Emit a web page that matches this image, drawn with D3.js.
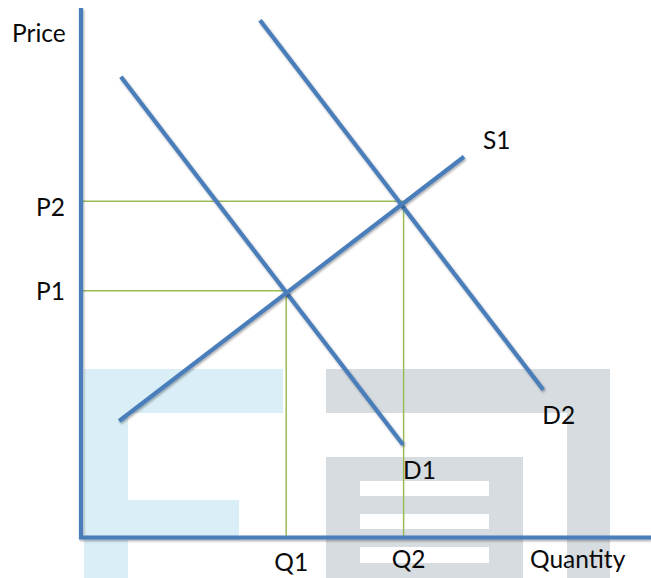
<!DOCTYPE html>
<html>
<head>
<meta charset="utf-8">
<script src="https://cdn.jsdelivr.net/npm/d3@7/dist/d3.min.js"></script>
<style>
  html, body { margin: 0; padding: 0; background: #fff; }
  svg { display: block; }
  text { font-family: Lato, "Open Sans", sans-serif; font-size: 24.5px; fill: #0a0a0a; }
</style>
</head>
<body>
<svg id="chart" width="651" height="578"></svg>
<script>
// ---- data (abstract price / quantity units) ----
const curveNames = ["D1", "D2", "S1"];
const D1 = [[0.70, 8.70], [5.65, 1.75]];
const D2 = [[3.14, 9.77], [8.11, 2.79]];
const S1 = [[0.67, 2.20], [6.72, 7.19]];
const equilibria = [[3.60, 4.66], [5.66, 6.35]];
const priceLabels = ["P1", "P2"];
const quantityLabels = ["Q1", "Q2"];
const axisTitles = ["Price", "Quantity"];

// ---- layout ----
const W = 651, H = 578;
const x = d3.scaleLinear().domain([0, 10]).range([81, 651]);
const y = d3.scaleLinear().domain([0, 10]).range([537.5, 8]);

const svg = d3.select("#chart");
const defs = svg.append("defs");
const f = defs.append("filter").attr("id", "shadow")
  .attr("x", "-10%").attr("y", "-10%").attr("width", "120%").attr("height", "120%");
f.append("feDropShadow").attr("dx", 1).attr("dy", 1.5).attr("stdDeviation", 1)
  .attr("flood-color", "#000").attr("flood-opacity", 0.35);

// ---- background watermark (decoration) ----
const wm = svg.append("g");
const blue = "#d9eef6", grey = "#d7dce0";
[[84, 369, 199, 44], [84, 369, 44, 209], [84, 500, 155, 40]].forEach(r =>
  wm.append("rect").attr("x", r[0]).attr("y", r[1]).attr("width", r[2]).attr("height", r[3]).attr("fill", blue));
[[326, 369, 284, 44], [567, 369, 43, 209], [326, 457, 197, 121]].forEach(r =>
  wm.append("rect").attr("x", r[0]).attr("y", r[1]).attr("width", r[2]).attr("height", r[3]).attr("fill", grey));
[[360, 481, 129, 15], [360, 514, 129, 15], [360, 547, 129, 16]].forEach(r =>
  wm.append("rect").attr("x", r[0]).attr("y", r[1]).attr("width", r[2]).attr("height", r[3]).attr("fill", "#fff"));

// ---- guide lines ----
const guides = svg.append("g").attr("stroke", "#9bbb59").attr("stroke-width", 1.5).attr("fill", "none");
equilibria.forEach(([q, p]) => {
  guides.append("line").attr("x1", x(0)).attr("x2", x(q)).attr("y1", y(p)).attr("y2", y(p));
  guides.append("line").attr("x1", x(q)).attr("x2", x(q)).attr("y1", y(p)).attr("y2", y(0));
});

// ---- curves ----
const lineGen = d3.line().x(d => x(d[0])).y(d => y(d[1]));
const curves = [D1, D2, S1];
svg.append("g").selectAll("path").data(curves).join("path")
  .attr("d", lineGen).attr("fill", "none")
  .attr("stroke", "#4a7ebb").attr("stroke-width", 4.2)
  .attr("filter", "url(#shadow)");

// ---- axes ----
svg.append("path")
  .attr("d", lineGen([[0, 10], [0, 0], [10, 0]]))
  .attr("fill", "none").attr("stroke", "#4a7ebb").attr("stroke-width", 4.2)
  .attr("stroke-linejoin", "miter")
  .attr("filter", "url(#shadow)");

// ---- labels ----
const lab = svg.append("g");
lab.append("text").attr("x", 12).attr("y", 42).text(axisTitles[0]);
lab.append("text").attr("x", 530).attr("y", 568).text(axisTitles[1]);
priceLabels.forEach((t, i) => {
  lab.append("text").attr("x", x(0) - 16).attr("y", y(equilibria[i][1]) + 9 + (i === 0 ? 0 : 6))
    .attr("text-anchor", "end").text(t);
});
quantityLabels.forEach((t, i) => {
  lab.append("text").attr("x", x(equilibria[i][0]) + 5).attr("y", i === 0 ? 571 : 568)
    .attr("text-anchor", "middle").text(t);
});
const ends = [D1[1], D2[1], S1[1]];
const offs = [[0, 34], [-1, 34], [19, -8]];
curveNames.forEach((t, i) => {
  lab.append("text").attr("x", x(ends[i][0]) + offs[i][0]).attr("y", y(ends[i][1]) + offs[i][1]).text(t);
});
</script>
</body>
</html>
